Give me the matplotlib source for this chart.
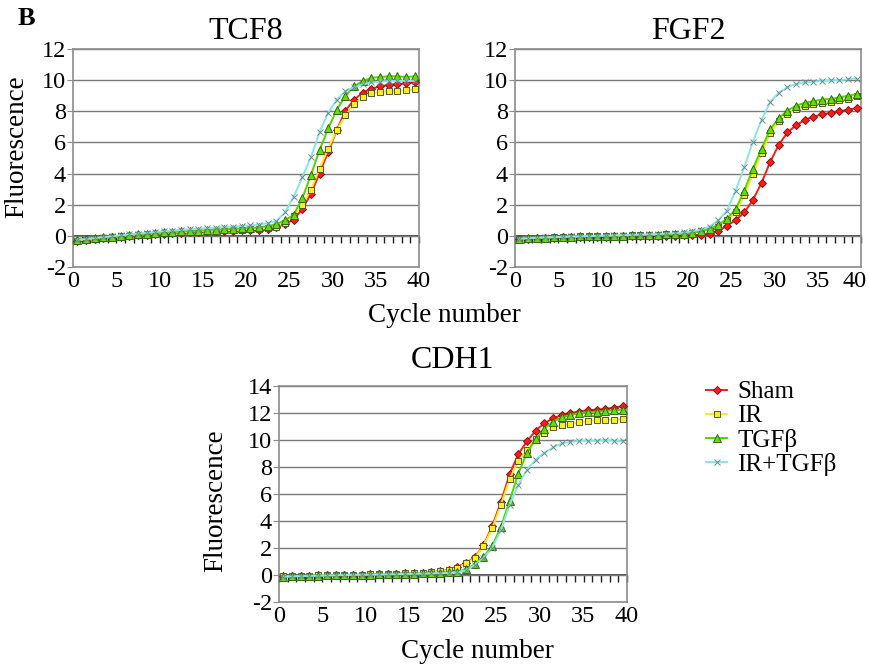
import numpy as np
import matplotlib
matplotlib.use("Agg")
import matplotlib.pyplot as plt
from matplotlib.transforms import ScaledTranslation

plt.rcParams['font.family'] = ['Liberation Serif', 'DejaVu Serif']
plt.rcParams['axes.unicode_minus'] = False

# cycle positions of the 40 readings
cycles = np.arange(40) + 0.5

series_names = ['Sham', 'IR', 'TGF\u03b2', 'IR+TGF\u03b2']

tcf8_sham = [-0.3, -0.25, -0.2, -0.15, -0.1, -0.05, 0.0, 0.05, 0.08, 0.12, 0.15, 0.18, 0.2, 0.23,
             0.25, 0.28, 0.3, 0.32, 0.34, 0.36, 0.38, 0.4, 0.45, 0.55, 0.75, 1.05, 1.7, 2.7, 4.0,
             5.4, 6.8, 8.05, 8.75, 9.2, 9.45, 9.6, 9.7, 9.75, 9.8, 9.85]
tcf8_ir = [-0.3, -0.25, -0.2, -0.14, -0.08, -0.03, 0.02, 0.07, 0.1, 0.14, 0.17, 0.2, 0.23, 0.26,
           0.29, 0.31, 0.33, 0.35, 0.37, 0.4, 0.42, 0.45, 0.5, 0.6, 0.85, 1.3, 2.0, 2.95, 4.3,
           5.6, 6.8, 7.75, 8.45, 8.9, 9.15, 9.25, 9.3, 9.3, 9.35, 9.4]
tcf8_tgfb = [-0.25, -0.2, -0.15, -0.1, -0.05, 0.0, 0.05, 0.1, 0.14, 0.18, 0.22, 0.25, 0.28, 0.31,
             0.34, 0.37, 0.4, 0.42, 0.45, 0.48, 0.5, 0.55, 0.62, 0.75, 1.0, 1.35, 2.4, 3.9, 5.5,
             6.9, 8.1, 9.0, 9.6, 9.95, 10.15, 10.2, 10.25, 10.25, 10.2, 10.25]
tcf8_ir_tgfb = [-0.25, -0.2, -0.14, -0.08, -0.02, 0.04, 0.1, 0.15, 0.2, 0.25, 0.3, 0.34, 0.38, 0.42,
                0.46, 0.5, 0.53, 0.56, 0.6, 0.63, 0.67, 0.72, 0.82, 0.95, 1.5, 2.5, 3.75, 5.05, 6.65,
                7.9, 8.75, 9.3, 9.55, 9.75, 9.85, 9.9, 9.95, 9.95, 9.95, 9.95]

fgf2_sham = [-0.2, -0.17, -0.15, -0.13, -0.12, -0.1, -0.09, -0.08, -0.07, -0.06, -0.05, -0.04, -0.03,
             -0.02, -0.01, 0.0, 0.0, 0.01, 0.02, 0.03, 0.04, 0.07, 0.15, 0.3, 0.65, 1.0, 1.5, 2.3,
             3.4, 4.75, 5.85, 6.65, 7.1, 7.45, 7.65, 7.8, 7.9, 8.0, 8.1, 8.2]
fgf2_ir = [-0.2, -0.16, -0.13, -0.11, -0.09, -0.07, -0.05, -0.04, -0.03, -0.01, 0.0, 0.01, 0.02,
           0.04, 0.05, 0.06, 0.08, 0.1, 0.12, 0.15, 0.2, 0.28, 0.4, 0.6, 1.0, 1.5, 2.6, 4.0, 5.3,
           6.6, 7.35, 7.85, 8.15, 8.35, 8.45, 8.55, 8.6, 8.7, 8.8, 8.95]
fgf2_tgfb = [-0.2, -0.16, -0.13, -0.11, -0.09, -0.07, -0.05, -0.04, -0.03, -0.01, 0.0, 0.01, 0.02,
             0.04, 0.05, 0.06, 0.08, 0.1, 0.12, 0.15, 0.2, 0.3, 0.45, 0.7, 1.1, 1.7, 2.9, 4.3, 5.6,
             6.85, 7.55, 8.05, 8.35, 8.55, 8.65, 8.75, 8.8, 8.9, 9.0, 9.1]
fgf2_ir_tgfb = [-0.18, -0.15, -0.12, -0.1, -0.08, -0.06, -0.04, -0.03, -0.01, 0.0, 0.02, 0.03, 0.05,
                0.06, 0.08, 0.1, 0.12, 0.15, 0.18, 0.22, 0.3, 0.4, 0.6, 1.0, 1.6, 2.9, 4.4, 6.05,
                7.45, 8.6, 9.2, 9.55, 9.75, 9.85, 9.9, 9.95, 10.0, 10.0, 10.05, 10.1]

cdh1_sham = [-0.1, -0.08, -0.06, -0.05, -0.03, -0.02, 0.0, 0.01, 0.02, 0.03, 0.05, 0.06, 0.08, 0.1,
             0.12, 0.14, 0.17, 0.2, 0.27, 0.4, 0.6, 0.9, 1.3, 2.2, 3.6, 5.4, 7.45, 8.95, 9.9, 10.7,
             11.25, 11.6, 11.85, 12.0, 12.1, 12.2, 12.25, 12.3, 12.4, 12.5]
cdh1_ir = [-0.1, -0.08, -0.06, -0.05, -0.03, -0.02, 0.0, 0.01, 0.02, 0.03, 0.05, 0.06, 0.08, 0.1,
           0.12, 0.14, 0.17, 0.2, 0.3, 0.37, 0.54, 0.86, 1.23, 2.15, 3.45, 5.2, 7.1, 8.45, 9.25,
           10.1, 10.55, 10.95, 11.1, 11.2, 11.3, 11.4, 11.45, 11.5, 11.5, 11.55]
cdh1_tgfb = [-0.12, -0.1, -0.08, -0.06, -0.05, -0.03, -0.02, 0.0, 0.01, 0.02, 0.03, 0.04, 0.06, 0.07,
             0.09, 0.1, 0.12, 0.14, 0.17, 0.2, 0.25, 0.42, 0.8, 1.35, 2.15, 3.55, 5.5, 7.5, 9.05,
             10.05, 10.85, 11.35, 11.7, 11.85, 12.0, 12.05, 12.1, 12.15, 12.2, 12.25]
cdh1_ir_tgfb = [-0.12, -0.1, -0.08, -0.06, -0.05, -0.03, -0.02, 0.0, 0.01, 0.02, 0.03, 0.04, 0.05,
                0.06, 0.08, 0.09, 0.1, 0.12, 0.14, 0.15, 0.2, 0.35, 0.75, 1.25, 2.0, 3.3, 5.2, 6.65,
                7.8, 8.55, 9.05, 9.45, 9.75, 9.85, 9.95, 9.95, 9.95, 10.0, 9.95, 9.9]

styles = [
    dict(color='#ff1a1a', marker='D', ms=4, mfc='#ff1a1a', mec='#8a1010'),
    dict(color='#f2ee1a', marker='s', ms=5, mfc='#f5f01e', mec='#555533'),
    dict(color='#55d400', marker='^', ms=5.5, mfc='#66dd00', mec='#2f6a10'),
    dict(color='#88e6e6', marker='x', ms=5, mfc='none', mec='#6a8c8c'),
]

W, H = 870, 666
fig = plt.figure(figsize=(W / 100, H / 100), dpi=100)


def make_panel(rect_px, title, data, ymax, title_pad):
    l, t, r, b = rect_px
    ax = fig.add_axes([l / W, 1 - b / H, (r - l) / W, (b - t) / H])
    for vals, st in zip(data, styles):
        ax.plot(cycles, vals, lw=1.4, mew=0.7, zorder=3, **st)
    ax.set_xlim(0, 40)
    ax.set_ylim(-2, ymax)
    ax.set_xticks(range(0, 41, 5))
    ax.set_yticks(range(-2, ymax + 1, 2))
    ax.yaxis.grid(True, color='#7a7a7a', lw=1)
    ax.set_axisbelow(True)
    for s in ax.spines.values():
        s.set_color('#8c8c8c')
        s.set_linewidth(1.2)
    ax.tick_params(axis='x', length=0, pad=3, labelsize=17.5)
    ax.tick_params(axis='y', length=4, color='#8c8c8c', pad=1, labelsize=17.5)
    ax.set_title(title, fontsize=23, pad=title_pad)
    # axis line at zero with a tick at every cycle
    zero = ax.secondary_xaxis(2 / (ymax + 2))
    zero.set_xticks(range(0, 41))
    zero.tick_params(length=5, width=1, color='#222222', labelbottom=False, labeltop=False,
                     direction='out')
    zero.spines['bottom'].set_color('#333333')
    zero.spines['bottom'].set_linewidth(1.2)
    return ax


ax1 = make_panel((73, 49, 419, 267), 'TCF8',
                 [tcf8_sham, tcf8_ir, tcf8_tgfb, tcf8_ir_tgfb], 12, 7)
ax2 = make_panel((515, 49, 861, 267), 'FGF2',
                 [fgf2_sham, fgf2_ir, fgf2_tgfb, fgf2_ir_tgfb], 12, 7)
ax3 = make_panel((279, 386, 627, 602), 'CDH1',
                 [cdh1_sham, cdh1_ir, cdh1_tgfb, cdh1_ir_tgfb], 14, 13)

# keep the last FGF2 label inside the figure
last = ax2.get_xticklabels()[-1]
last.set_transform(last.get_transform() + ScaledTranslation(-6 / 100, 0, fig.dpi_scale_trans))

ax1.set_ylabel('Fluorescence', fontsize=19.5)
ax1.yaxis.set_label_coords(-0.125, 0.55)
ax3.set_ylabel('Fluorescence', fontsize=19.5)
ax3.yaxis.set_label_coords(-0.145, 0.47)

fig.text(444 / W, 1 - 316 / H, 'Cycle number', fontsize=19.5, ha='center', va='center')
fig.text(477 / W, 1 - 652 / H, 'Cycle number', fontsize=19.5, ha='center', va='center')
fig.text(18 / W, 1 - 25 / H, 'B', fontsize=19, fontweight='bold', va='baseline')

handles = ax3.get_lines()[:4]
fig.legend(handles, series_names, loc='upper left', bbox_to_anchor=(706 / W, 1 - 381 / H),
           frameon=False, fontsize=18, handlelength=0.85, handletextpad=0.4,
           labelspacing=0.05, borderaxespad=0, borderpad=0)

fig.savefig('out.png', dpi=100)
